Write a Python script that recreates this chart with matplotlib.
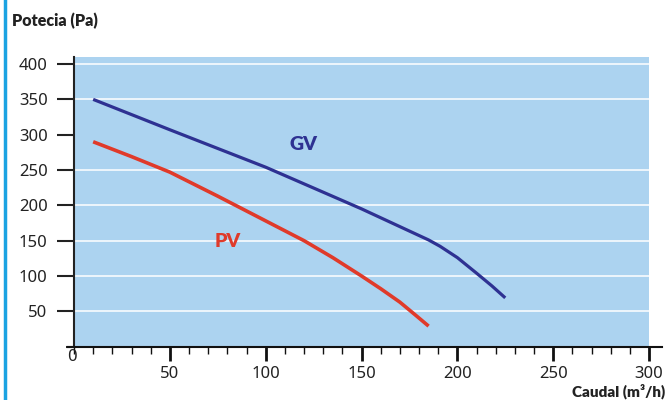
import matplotlib
matplotlib.use("Agg")
import matplotlib.pyplot as plt
from matplotlib.ticker import MultipleLocator, FixedLocator
from matplotlib.lines import Line2D

# ---- data ----
gv_x = [10, 50, 100, 139, 150, 185, 191, 200, 210, 218, 225]
gv_y = [350, 307, 254, 208, 195, 151, 142, 126, 104, 86, 69]
pv_x = [10, 30, 50, 75, 100, 110, 120, 135, 150, 160, 170, 178, 185]
pv_y = [290, 269, 247, 213, 178, 164, 150, 126, 100, 82, 63, 45, 29]
x_ticks = [50, 100, 150, 200, 250, 300]
y_ticks = [50, 100, 150, 200, 250, 300, 350, 400]
grid_levels = [50, 100, 150, 200, 250, 350, 400]
series_names = ["GV", "PV"]
y_title = "Potecia (Pa)"
x_title = "Caudal (m³/h)"

BG = "#acd3f0"
NAVY = "#2e3192"
RED = "#e03a2a"
CYAN = "#1ba3e2"
BOLD_FONT = ['Lato', 'DejaVu Sans']

plt.rcParams['font.family'] = ['Noto Sans', 'DejaVu Sans']

fig = plt.figure(figsize=(6.67, 4.0), dpi=100)
ax = fig.add_axes([74/667, 1 - 346.6/400, (649 - 74)/667, (346.6 - 57)/400])
ax.set_facecolor(BG)
ax.set_xlim(0, 300)
ax.set_ylim(0, 410)

for g in grid_levels:
    ax.axhline(g, color="white", lw=1.1, zorder=1)

ax.plot(gv_x, gv_y, color=NAVY, lw=2.3, zorder=3, solid_capstyle='butt',
        solid_joinstyle='round')
ax.plot(pv_x, pv_y, color=RED, lw=2.6, zorder=3, solid_capstyle='butt',
        solid_joinstyle='round')

ax.text(120, 286, series_names[0], color=NAVY, fontsize=14, fontweight='heavy',
        family=BOLD_FONT, ha='center', va='center', zorder=4)
ax.text(80, 149, series_names[1], color=RED, fontsize=14, fontweight='heavy',
        family=BOLD_FONT, ha='center', va='center', zorder=4)

for s in ['top', 'right']:
    ax.spines[s].set_visible(False)
ax.spines['left'].set_color('#222222')
ax.spines['left'].set_linewidth(1.5)
ax.spines['bottom'].set_visible(False)

# bottom axis line extending beyond plot area
ax.add_line(Line2D([-6/575, 588/575], [0, 0], transform=ax.transAxes,
                   color='#111111', lw=1.5, clip_on=False, zorder=5))

ax.xaxis.set_major_locator(FixedLocator(x_ticks))
ax.xaxis.set_minor_locator(MultipleLocator(10))
ax.tick_params(axis='x', which='major', direction='out', length=10, width=2,
               color='#111111', labelsize=12, pad=4, labelcolor='#222222')
ax.tick_params(axis='x', which='minor', direction='out', length=5, width=1,
               color='#111111')

ax.yaxis.set_major_locator(FixedLocator(y_ticks))
ax.yaxis.set_minor_locator(FixedLocator([0]))
ax.tick_params(axis='y', which='major', direction='out', length=12, width=1.5,
               color='#222222', labelsize=12, pad=7, labelcolor='#222222')
ax.tick_params(axis='y', which='minor', direction='out', length=6, width=1.5,
               color='#222222')

ax.text(-1, -3, "0", transform=ax.transData, ha='center', va='top',
        fontsize=12, color='#222222', clip_on=False)

fig.text(12/667, 1 - 26/400, y_title, fontsize=11.5, fontweight='heavy',
         family=BOLD_FONT, color='#222222', ha='left', va='baseline')
fig.text(665/667, 1 - 396/400, x_title, fontsize=11, fontweight='heavy',
         family=BOLD_FONT, color='#222222', ha='right', va='baseline')

# left vertical accent bar
fig.add_artist(Line2D([5/667, 5/667], [0, 1], transform=fig.transFigure,
                      color=CYAN, lw=2.5))

fig.savefig("out.png", dpi=100)
